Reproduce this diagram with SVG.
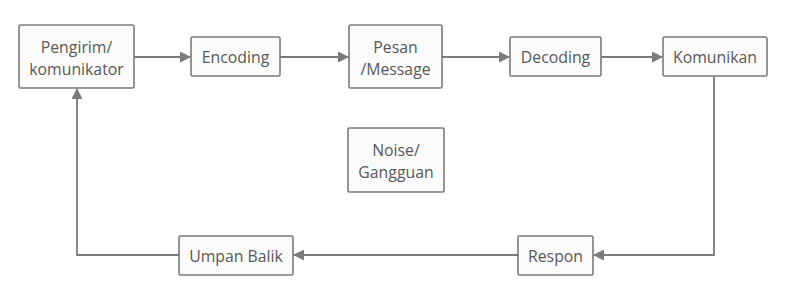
<svg xmlns="http://www.w3.org/2000/svg" width="806" height="295" viewBox="0 0 806 295">
<style>
.box{fill:#fbfbfb;stroke:#7b7b7b;stroke-width:1.6}
.t{font-family:"Open Sans","Liberation Sans",sans-serif;font-size:15.8px;fill:#585858;text-anchor:middle}
.c{fill:none;stroke:#7b7b7b;stroke-width:1.8}
</style>
<defs>
<marker id="ah" markerWidth="11" markerHeight="11" refX="10" refY="5.5" orient="auto" markerUnits="userSpaceOnUse">
<path d="M0,0 L11,5.5 L0,11 z" fill="#7b7b7b"/>
</marker>
</defs>
<rect width="806" height="295" fill="#fff"/>
<g id="connectors">
<line class="c" x1="134" y1="57" x2="190" y2="57" marker-end="url(#ah)"/>
<line class="c" x1="280" y1="57" x2="348" y2="57" marker-end="url(#ah)"/>
<line class="c" x1="442" y1="57" x2="509" y2="57" marker-end="url(#ah)"/>
<line class="c" x1="601" y1="57" x2="662" y2="57" marker-end="url(#ah)"/>
<polyline class="c" points="714,76 714,255 594,255" marker-end="url(#ah)"/>
<line class="c" x1="518" y1="255" x2="294" y2="255" marker-end="url(#ah)"/>
<polyline class="c" points="179,255 77,255 77,89" marker-end="url(#ah)"/>
</g>
<g id="pengirim">
<rect class="box" x="19" y="25" width="115" height="63" rx="1.5"/>
<text class="t" x="76.5" y="52.5">Pengirim/</text>
<text class="t" x="76.5" y="74.5">komunikator</text>
</g>
<g id="encoding">
<rect class="box" x="191" y="37" width="89" height="39" rx="1.5"/>
<text class="t" x="235.5" y="62.5">Encoding</text>
</g>
<g id="pesan">
<rect class="box" x="349" y="25" width="93" height="63" rx="1.5"/>
<text class="t" x="395.5" y="52.5">Pesan</text>
<text class="t" x="395.5" y="74.5">/Message</text>
</g>
<g id="decoding">
<rect class="box" x="510" y="37" width="91" height="39" rx="1.5"/>
<text class="t" x="555.5" y="62.5">Decoding</text>
</g>
<g id="komunikan">
<rect class="box" x="663" y="37" width="104" height="39" rx="1.5"/>
<text class="t" x="715" y="62.5">Komunikan</text>
</g>
<g id="noise">
<rect class="box" x="348" y="128" width="96" height="64" rx="1.5"/>
<text class="t" x="396" y="155.5">Noise/</text>
<text class="t" x="396" y="177.5">Gangguan</text>
</g>
<g id="respon">
<rect class="box" x="518" y="236" width="75" height="39" rx="1.5"/>
<text class="t" x="555.5" y="261.5">Respon</text>
</g>
<g id="umpan">
<rect class="box" x="179" y="236" width="114" height="39" rx="1.5"/>
<text class="t" x="236" y="261.5">Umpan Balik</text>
</g>
</svg>
